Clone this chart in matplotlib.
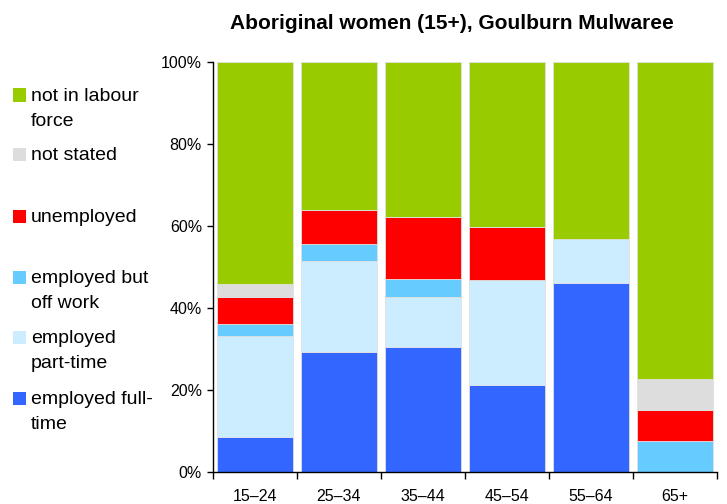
import matplotlib
matplotlib.use("Agg")
import matplotlib.pyplot as plt
from matplotlib.patches import Rectangle
import numpy as np

plt.rcParams['font.family'] = ['Liberation Sans', 'DejaVu Sans']

categories = ["15–24", "25–34", "35–44", "45–54", "55–64", "65+"]
full_time = [8.5, 29.3, 30.4, 21.1, 46.0, 0.0]
part_time = [24.6, 22.2, 12.2, 25.7, 10.8, 0.0]
off_work = [3.1, 4.1, 4.5, 0.0, 0.0, 7.6]
unemployed = [6.4, 8.2, 15.0, 12.9, 0.0, 7.4]
not_stated = [3.3, 0.0, 0.0, 0.0, 0.0, 7.6]
not_in_lf = [54.1, 36.2, 37.9, 40.3, 43.2, 77.4]

series = [
    ("employed full-\ntime", full_time, "#3366FF"),
    ("employed\npart-time", part_time, "#CCECFF"),
    ("employed but\noff work", off_work, "#66CCFF"),
    ("unemployed", unemployed, "#FF0000"),
    ("not stated", not_stated, "#DDDDDD"),
    ("not in labour\nforce", not_in_lf, "#99CC00"),
]

fig = plt.figure(figsize=(7.27, 5.04), dpi=100)
ax = fig.add_axes([0.293, 0.0635, 0.693, 0.8135])

x = np.arange(len(categories))
bottom = np.zeros(len(categories))
for label, vals, color in series:
    vals = np.array(vals)
    ax.bar(x, vals, bottom=bottom, width=0.905, color=color,
           edgecolor="#e0e0e0", linewidth=0.6)
    bottom += vals

ax.set_xlim(-0.5, 5.5)
ax.set_ylim(0, 100)
ax.set_yticks([0, 20, 40, 60, 80, 100])
ax.set_yticklabels([f"{v}%" for v in [0, 20, 40, 60, 80, 100]], fontsize=11.5)
ax.set_xticks(np.arange(-0.5, 6, 1.0))
ax.set_xticklabels([])
ax.set_xticks(x, minor=True)
ax.set_xticklabels(categories, minor=True, fontsize=11.5)
ax.tick_params(axis='x', which='major', length=5, direction='out', width=1)
ax.tick_params(axis='x', which='minor', length=0, pad=12)
ax.tick_params(axis='y', length=4, direction='out', width=1, pad=4)
for s in ["top", "right"]:
    ax.spines[s].set_visible(False)
for s in ["left", "bottom"]:
    ax.spines[s].set_linewidth(1)

fig.text(0.622, 0.954, "Aboriginal women (15+), Goulburn Mulwaree",
         ha="center", va="center", fontsize=15, fontweight="bold")

# legend (manual, to match uneven spacing)
W, H = 727, 504
legend_items = [
    ("not in labour\nforce", "#99CC00", 95),
    ("not stated", "#DDDDDD", 154),
    ("unemployed", "#FF0000", 216),
    ("employed but\noff work", "#66CCFF", 277),
    ("employed\npart-time", "#CCECFF", 337),
    ("employed full-\ntime", "#3366FF", 398),
]
for text, color, ypx in legend_items:
    fig.patches.append(Rectangle((13 / W, 1 - (ypx + 6.5) / H), 13 / W, 13 / H,
                                 transform=fig.transFigure, facecolor=color,
                                 edgecolor="none"))
    fig.text(31 / W, 1 - (ypx - 7) / H, text, ha="left", va="top",
             fontsize=14, linespacing=1.6)

fig.savefig("out.png", dpi=100)
